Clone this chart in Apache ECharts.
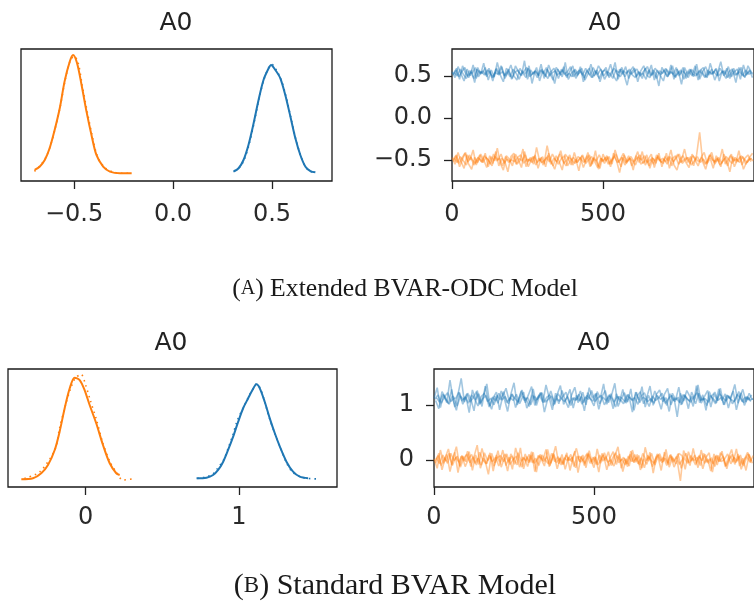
<!DOCTYPE html>
<html>
<head>
<meta charset="utf-8">
<title>A0 posterior and trace</title>
<style>
  html, body { margin: 0; padding: 0; background: #fff; }
  #chart { width: 754px; height: 603px; }
</style>
</head>
<body>
<div id="chart"></div>
<script src="https://cdn.jsdelivr.net/npm/echarts@6/dist/echarts.min.js"></script>
<script>
// ---- data ----
// (A) extended BVAR-ODC, density of A0 (two components, two chains each)
var densA_orange = [[-0.699,0.042],[-0.674,0.069],[-0.648,0.125],[-0.623,0.225],[-0.598,0.375],[-0.572,0.558],[-0.548,0.778],[-0.522,0.944],[-0.505,1.0],[-0.485,0.933],[-0.462,0.75],[-0.437,0.528],[-0.412,0.333],[-0.387,0.167],[-0.353,0.069],[-0.319,0.028],[-0.268,0.014],[-0.209,0.014]];
var densA_orange2 = [[-0.70,0.03],[-0.67,0.08],[-0.645,0.14],[-0.62,0.24],[-0.595,0.39],[-0.57,0.57],[-0.545,0.79],[-0.52,0.95],[-0.50,0.99],[-0.48,0.94],[-0.46,0.76],[-0.435,0.54],[-0.41,0.34],[-0.385,0.17],[-0.35,0.07],[-0.31,0.03],[-0.26,0.015],[-0.21,0.015]];
var densA_blue = [[0.305,0.028],[0.331,0.056],[0.356,0.125],[0.381,0.25],[0.407,0.431],[0.432,0.625],[0.457,0.792],[0.483,0.889],[0.495,0.917],[0.517,0.875],[0.542,0.806],[0.567,0.667],[0.593,0.486],[0.618,0.306],[0.643,0.167],[0.669,0.069],[0.694,0.033],[0.719,0.022]];
var densA_blue2 = [[0.31,0.035],[0.335,0.06],[0.36,0.13],[0.385,0.26],[0.41,0.44],[0.435,0.64],[0.46,0.80],[0.485,0.90],[0.50,0.92],[0.52,0.88],[0.545,0.80],[0.57,0.66],[0.595,0.48],[0.62,0.30],[0.645,0.16],[0.67,0.065],[0.695,0.03],[0.72,0.02]];

// (B) standard BVAR
var densB_orange = [[-0.420,0.022],[-0.344,0.031],[-0.290,0.078],[-0.246,0.155],[-0.202,0.295],[-0.170,0.466],[-0.137,0.684],[-0.104,0.870],[-0.072,0.969],[-0.039,0.947],[-0.007,0.854],[0.026,0.714],[0.069,0.544],[0.113,0.342],[0.157,0.171],[0.200,0.078],[0.222,0.062]];
var densB_orange2 = [[-0.40,0.03],[-0.30,0.09],[-0.20,0.30],[-0.17,0.50],[-0.13,0.72],[-0.10,0.86],[-0.07,0.96],[-0.03,1.0],[0.0,0.90],[0.03,0.76],[0.07,0.58],[0.11,0.37],[0.16,0.18],[0.20,0.09],[0.243,0.015],[0.302,0.025]];
var densB_blue = [[0.724,0.031],[0.789,0.037],[0.832,0.062],[0.865,0.109],[0.898,0.186],[0.930,0.295],[0.963,0.419],[0.996,0.559],[1.028,0.684],[1.061,0.777],[1.089,0.854],[1.115,0.907],[1.137,0.870],[1.169,0.745],[1.202,0.590],[1.235,0.451],[1.268,0.326],[1.311,0.186],[1.354,0.093],[1.398,0.046],[1.452,0.031]];
var densB_blue2 = [[0.73,0.03],[0.79,0.045],[0.83,0.07],[0.86,0.12],[0.90,0.20],[0.93,0.31],[0.96,0.43],[0.99,0.57],[1.03,0.69],[1.06,0.78],[1.09,0.86],[1.115,0.91],[1.14,0.87],[1.17,0.74],[1.20,0.59],[1.235,0.45],[1.27,0.32],[1.31,0.18],[1.35,0.09],[1.40,0.045],[1.45,0.03],[1.517,0.025]];

// trace values, one value per 10 draws; the "b" lists are the draws in between
var thinStep = 10;
var traceA_blue1 = [0.55,0.48,0.61,0.52,0.44,0.58,0.50,0.63,0.47,0.56,0.53,0.60,0.45,0.57,0.49,0.66,0.51,0.43,0.59,0.54,0.47,0.62,0.55,0.50,0.68,0.46,0.57,0.52,0.60,0.44,0.56,0.49,0.63,0.53,0.41,0.58,0.51,0.61,0.48,0.55,0.62,0.47,0.54,0.59,0.45,0.52,0.64,0.50,0.57,0.43,0.55,0.60,0.48,0.53,0.66,0.46,0.58,0.51,0.39,0.56,0.61,0.49,0.54,0.47,0.59,0.52,0.63,0.45,0.57,0.50,0.44,0.58,0.53,0.62,0.48,0.55,0.40,0.60,0.52,0.57,0.49,0.64,0.46,0.55,0.61,0.51,0.58,0.45,0.54,0.67,0.50,0.59,0.47,0.56,0.42,0.60,0.53,0.48,0.62,0.55];
var traceA_blue2 = [0.51,0.59,0.46,0.62,0.53,0.48,0.57,0.42,0.60,0.52,0.65,0.49,0.56,0.44,0.58,0.51,0.61,0.47,0.54,0.63,0.50,0.45,0.59,0.53,0.48,0.62,0.41,0.56,0.51,0.64,0.47,0.58,0.52,0.45,0.60,0.55,0.49,0.66,0.46,0.53,0.57,0.50,0.61,0.43,0.55,0.59,0.48,0.52,0.62,0.56,0.46,0.53,0.64,0.50,0.44,0.58,0.52,0.61,0.47,0.55,0.59,0.43,0.56,0.62,0.51,0.48,0.57,0.53,0.38,0.60,0.54,0.49,0.63,0.46,0.58,0.52,0.60,0.47,0.55,0.50,0.62,0.45,0.57,0.51,0.48,0.65,0.53,0.59,0.44,0.56,0.52,0.61,0.49,0.55,0.58,0.46,0.63,0.51,0.57,0.48];
var traceA_blue1b = [0.52,0.57,0.49,0.55,0.60,0.50,0.54,0.47,0.58,0.53,0.56,0.51,0.59,0.48,0.54,0.52,0.62,0.50,0.55,0.49,0.58,0.53,0.46,0.56,0.52,0.59,0.51,0.55,0.48,0.57,0.53,0.60,0.50,0.54,0.56,0.47,0.58,0.52,0.55,0.61,0.49,0.54,0.57,0.51,0.59,0.53,0.48,0.56,0.52,0.58,0.50,0.55,0.53,0.47,0.57,0.54,0.60,0.49,0.56,0.52,0.55,0.58,0.50,0.53,0.46,0.57,0.51,0.59,0.54,0.52,0.57,0.49,0.55,0.52,0.60,0.50,0.56,0.53,0.48,0.58,0.54,0.51,0.57,0.60,0.49,0.55,0.52,0.58,0.50,0.54,0.56,0.48,0.53,0.59,0.51,0.55,0.50,0.57,0.52,0.54];
var traceA_blue2b = [0.54,0.50,0.58,0.52,0.47,0.56,0.53,0.60,0.49,0.55,0.51,0.57,0.53,0.48,0.59,0.52,0.55,0.50,0.58,0.46,0.54,0.57,0.51,0.55,0.60,0.49,0.53,0.56,0.50,0.58,0.52,0.47,0.55,0.59,0.51,0.54,0.57,0.50,0.53,0.49,0.58,0.52,0.55,0.48,0.56,0.51,0.60,0.53,0.47,0.55,0.57,0.50,0.54,0.59,0.52,0.49,0.56,0.53,0.58,0.51,0.48,0.55,0.52,0.57,0.61,0.50,0.54,0.47,0.56,0.53,0.59,0.51,0.55,0.49,0.53,0.57,0.46,0.54,0.58,0.52,0.50,0.56,0.53,0.48,0.57,0.52,0.55,0.50,0.59,0.53,0.47,0.55,0.58,0.51,0.54,0.60,0.49,0.53,0.56,0.52];
var traceA_orange1 = [-0.47,-0.55,-0.41,-0.52,-0.60,-0.44,-0.50,-0.38,-0.56,-0.48,-0.53,-0.42,-0.58,-0.46,-0.51,-0.36,-0.54,-0.62,-0.45,-0.49,-0.57,-0.43,-0.50,-0.59,-0.40,-0.52,-0.47,-0.55,-0.35,-0.51,-0.46,-0.58,-0.42,-0.53,-0.61,-0.48,-0.39,-0.54,-0.50,-0.44,-0.56,-0.49,-0.63,-0.45,-0.52,-0.41,-0.57,-0.47,-0.53,-0.60,-0.43,-0.51,-0.46,-0.55,-0.38,-0.50,-0.58,-0.44,-0.52,-0.48,-0.62,-0.45,-0.53,-0.40,-0.56,-0.49,-0.43,-0.59,-0.47,-0.51,-0.54,-0.42,-0.60,-0.48,-0.45,-0.55,-0.50,-0.37,-0.53,-0.46,-0.57,-0.44,-0.17,-0.52,-0.61,-0.47,-0.41,-0.55,-0.49,-0.58,-0.43,-0.51,-0.64,-0.46,-0.53,-0.39,-0.56,-0.48,-0.44,-0.52];
var traceA_orange2 = [-0.52,-0.44,-0.58,-0.49,-0.41,-0.55,-0.61,-0.47,-0.53,-0.43,-0.50,-0.59,-0.45,-0.54,-0.40,-0.57,-0.48,-0.52,-0.64,-0.46,-0.42,-0.55,-0.51,-0.37,-0.58,-0.49,-0.53,-0.44,-0.60,-0.47,-0.54,-0.33,-0.50,-0.57,-0.45,-0.52,-0.62,-0.43,-0.48,-0.56,-0.41,-0.53,-0.47,-0.59,-0.50,-0.44,-0.55,-0.39,-0.61,-0.48,-0.54,-0.46,-0.58,-0.42,-0.51,-0.65,-0.47,-0.53,-0.45,-0.57,-0.49,-0.40,-0.55,-0.52,-0.44,-0.60,-0.48,-0.54,-0.42,-0.58,-0.46,-0.51,-0.38,-0.56,-0.62,-0.49,-0.45,-0.53,-0.59,-0.43,-0.50,-0.57,-0.47,-0.41,-0.54,-0.48,-0.60,-0.45,-0.52,-0.37,-0.55,-0.49,-0.43,-0.58,-0.50,-0.46,-0.61,-0.53,-0.47,-0.42];
var traceA_orange1b = [-0.50,-0.45,-0.54,-0.48,-0.42,-0.52,-0.47,-0.56,-0.49,-0.44,-0.53,-0.47,-0.51,-0.57,-0.46,-0.50,-0.43,-0.54,-0.49,-0.52,-0.45,-0.55,-0.48,-0.51,-0.44,-0.58,-0.50,-0.46,-0.53,-0.49,-0.56,-0.47,-0.52,-0.43,-0.50,-0.55,-0.48,-0.45,-0.57,-0.51,-0.47,-0.53,-0.49,-0.44,-0.54,-0.50,-0.46,-0.52,-0.59,-0.48,-0.51,-0.45,-0.55,-0.49,-0.43,-0.53,-0.47,-0.56,-0.50,-0.46,-0.52,-0.48,-0.44,-0.54,-0.50,-0.57,-0.47,-0.51,-0.45,-0.53,-0.49,-0.55,-0.46,-0.52,-0.48,-0.43,-0.54,-0.50,-0.47,-0.56,-0.51,-0.46,-0.53,-0.49,-0.55,-0.44,-0.50,-0.52,-0.47,-0.54,-0.48,-0.57,-0.45,-0.51,-0.49,-0.53,-0.46,-0.55,-0.50,-0.48];
var traceA_orange2b = [-0.48,-0.53,-0.46,-0.51,-0.56,-0.44,-0.50,-0.54,-0.47,-0.52,-0.45,-0.49,-0.55,-0.43,-0.51,-0.48,-0.57,-0.46,-0.53,-0.50,-0.52,-0.47,-0.44,-0.54,-0.49,-0.51,-0.46,-0.56,-0.48,-0.53,-0.50,-0.45,-0.55,-0.48,-0.52,-0.43,-0.51,-0.57,-0.47,-0.50,-0.54,-0.46,-0.49,-0.53,-0.45,-0.58,-0.48,-0.51,-0.44,-0.52,-0.47,-0.55,-0.50,-0.46,-0.53,-0.49,-0.42,-0.54,-0.48,-0.51,-0.56,-0.47,-0.50,-0.45,-0.53,-0.49,-0.55,-0.44,-0.51,-0.48,-0.52,-0.46,-0.57,-0.49,-0.43,-0.53,-0.50,-0.47,-0.54,-0.45,-0.49,-0.52,-0.47,-0.55,-0.50,-0.44,-0.53,-0.48,-0.56,-0.51,-0.46,-0.50,-0.54,-0.47,-0.52,-0.45,-0.49,-0.53,-0.48,-0.51];
var traceB_blue1 = [1.12,1.31,0.95,1.18,1.04,1.45,1.08,0.90,1.22,1.01,1.15,0.86,1.27,1.09,1.20,0.97,1.34,1.06,0.92,1.16,1.03,1.25,1.11,0.88,1.19,1.40,1.00,1.14,1.23,0.94,1.07,1.29,0.99,1.17,1.05,1.36,1.13,0.91,1.21,1.02,1.26,1.08,0.95,1.18,1.32,1.04,1.15,0.89,1.22,1.10,0.98,1.24,1.12,1.38,1.01,1.16,0.93,1.20,1.06,1.28,1.03,1.14,0.87,1.23,1.09,1.33,0.96,1.17,1.05,1.25,1.11,0.92,1.19,1.30,1.00,1.13,0.78,1.21,1.07,1.26,1.15,0.97,1.35,1.04,1.18,0.90,1.24,1.10,1.02,1.29,1.08,1.20,0.94,1.16,1.37,1.03,1.22,0.99,1.14,1.06];
var traceB_blue2 = [1.08,0.93,1.24,1.14,1.02,1.28,0.96,1.19,1.48,1.05,1.21,1.11,0.89,1.26,1.03,1.17,1.38,0.98,1.13,1.23,0.91,1.16,1.30,1.07,1.20,0.95,1.12,1.27,1.04,1.18,1.33,0.99,1.15,1.22,0.87,1.10,1.25,1.06,1.19,1.35,1.01,1.13,1.28,0.94,1.17,1.07,1.23,1.00,1.31,1.12,1.20,0.92,1.15,1.26,1.04,1.18,1.39,0.97,1.11,1.22,1.05,1.29,0.90,1.16,1.24,1.02,1.14,1.34,0.99,1.19,1.27,1.06,1.13,0.88,1.21,1.09,1.32,1.01,1.17,0.93,1.23,1.10,1.36,1.03,1.15,1.26,0.96,1.20,1.08,1.30,1.00,1.18,1.11,1.25,0.91,1.14,1.28,1.05,1.21,1.09];
var traceB_blue1b = [1.10,1.18,1.03,1.14,1.22,1.06,1.12,0.98,1.16,1.09,1.20,1.05,1.13,1.24,1.01,1.11,1.17,0.96,1.14,1.07,1.21,1.09,1.15,1.02,1.19,1.12,1.05,1.25,1.08,1.13,1.00,1.16,1.10,1.22,1.04,1.14,1.18,0.99,1.11,1.07,1.15,1.23,1.03,1.12,1.08,1.19,1.01,1.14,1.10,1.26,1.06,1.13,1.17,1.00,1.11,1.20,1.05,1.15,1.09,1.02,1.18,1.12,1.07,1.23,1.04,1.14,1.10,0.97,1.16,1.08,1.13,1.21,1.03,1.11,1.17,1.06,1.14,1.00,1.19,1.10,1.05,1.15,1.22,1.08,1.12,0.99,1.17,1.11,1.04,1.20,1.13,1.07,1.16,1.02,1.10,1.24,1.06,1.14,1.09,1.18];
var traceB_blue2b = [1.13,1.05,1.19,1.09,1.01,1.16,1.11,1.23,1.07,1.14,1.03,1.18,1.10,0.98,1.15,1.21,1.06,1.12,1.00,1.17,1.09,1.24,1.04,1.13,1.08,1.19,1.02,1.15,1.11,0.97,1.18,1.07,1.14,1.22,1.05,1.10,1.16,1.01,1.20,1.12,1.06,1.15,0.99,1.13,1.09,1.25,1.04,1.17,1.11,1.07,1.21,1.02,1.14,1.08,1.18,1.10,0.96,1.15,1.12,1.05,1.19,1.09,1.13,1.01,1.16,1.22,1.06,1.11,1.03,1.17,1.10,1.14,0.99,1.20,1.08,1.12,1.04,1.18,1.13,1.07,1.15,1.02,1.21,1.09,1.11,1.05,1.16,1.23,1.08,1.13,1.00,1.17,1.10,1.06,1.19,1.12,1.04,1.15,1.09,1.11];
var traceB_orange1 = [0.02,-0.15,0.18,-0.06,0.10,-0.21,0.05,0.24,-0.11,0.07,-0.03,0.15,-0.19,0.09,-0.08,0.21,-0.02,-0.26,0.12,-0.05,0.17,-0.13,0.04,-0.20,0.11,0.01,-0.09,0.22,-0.16,0.06,-0.04,0.14,-0.22,0.08,-0.01,0.19,-0.12,0.03,0.25,-0.07,0.10,-0.17,0.05,-0.03,0.16,-0.23,0.07,-0.10,0.13,0.00,-0.14,0.20,-0.06,0.09,-0.18,0.04,0.15,-0.08,0.11,-0.21,0.02,-0.11,0.18,-0.04,0.08,-0.15,0.23,-0.02,0.12,-0.09,0.06,-0.19,0.14,-0.05,0.10,-0.13,-0.01,-0.38,0.17,0.03,-0.10,0.21,-0.06,0.09,-0.16,0.05,0.13,-0.22,0.07,-0.03,0.16,-0.12,0.04,0.19,-0.08,0.11,-0.17,0.01,0.14,-0.05];
var traceB_orange2 = [-0.06,0.12,-0.18,0.04,0.20,-0.09,0.14,-0.23,0.07,-0.02,0.16,-0.12,0.06,0.27,-0.15,0.03,-0.07,0.13,-0.20,0.09,-0.04,0.18,-0.10,0.05,-0.17,0.22,0.01,-0.13,0.11,-0.05,0.15,-0.21,0.08,0.02,-0.11,0.19,-0.06,0.10,-0.16,0.04,-0.08,0.13,-0.19,0.06,0.21,-0.03,0.09,-0.14,0.17,-0.07,0.05,-0.22,0.12,-0.01,0.15,-0.10,0.07,0.24,-0.15,0.03,-0.12,0.16,-0.05,0.10,-0.18,0.02,-0.08,0.14,-0.24,0.06,0.11,-0.03,0.19,-0.13,0.04,-0.07,0.12,0.08,-0.17,0.15,-0.02,0.09,-0.14,0.18,-0.06,0.02,-0.20,0.11,-0.09,0.13,0.05,-0.16,0.08,-0.04,0.20,-0.11,0.03,-0.19,0.10,-0.06];
var traceB_orange1b = [-0.02,0.08,-0.10,0.04,-0.06,0.12,-0.01,0.07,-0.13,0.03,0.10,-0.05,0.06,-0.09,0.14,0.00,-0.07,0.09,-0.03,0.05,-0.11,0.02,0.11,-0.04,0.07,-0.08,0.13,-0.02,0.04,-0.12,0.08,-0.06,0.01,0.10,-0.03,0.06,-0.10,0.12,-0.05,0.03,-0.08,0.09,-0.01,0.05,-0.14,0.07,0.02,-0.06,0.11,-0.03,0.06,-0.09,0.03,0.13,-0.04,0.00,-0.11,0.08,-0.02,0.05,-0.07,0.10,-0.03,0.04,-0.09,0.12,-0.01,0.06,-0.12,0.02,0.09,-0.05,0.03,-0.08,0.07,-0.02,0.11,-0.15,0.04,-0.06,0.08,-0.01,0.05,-0.10,0.12,-0.04,0.02,-0.07,0.09,-0.03,0.06,-0.11,0.01,0.10,-0.05,0.07,-0.08,0.03,0.11,-0.02];
var traceB_orange2b = [0.04,-0.07,0.09,-0.02,0.12,-0.10,0.05,-0.04,0.08,-0.12,0.02,0.10,-0.06,0.03,-0.09,0.13,-0.01,0.06,-0.11,0.04,0.08,-0.03,0.11,-0.08,0.01,0.07,-0.13,0.05,-0.02,0.10,-0.05,0.03,-0.10,0.09,0.00,-0.07,0.12,-0.03,0.06,-0.09,0.04,-0.01,0.10,-0.12,0.07,-0.04,0.02,0.11,-0.06,0.05,-0.08,0.09,-0.02,0.06,-0.11,0.03,0.13,-0.05,0.01,-0.09,0.07,-0.03,0.10,-0.07,0.04,-0.14,0.08,0.00,-0.06,0.11,-0.02,0.05,-0.10,0.09,-0.04,0.06,-0.08,0.02,0.12,-0.05,0.03,-0.09,0.07,-0.01,0.10,-0.06,0.04,-0.12,0.08,-0.03,0.01,0.11,-0.07,0.05,-0.02,0.09,-0.11,0.06,-0.04,0.08];

// tick labels
var densTicksA = [-0.5, 0, 0.5];
var traceYTicksA = [-0.5, 0, 0.5];
var densTicksB = [0, 1];
var traceYTicksB = [0, 1];
var drawTicks = [0, 500];

var panelTitles = ['A0', 'A0', 'A0', 'A0'];
var captionA = '({scA|A}) Extended BVAR-ODC Model';
var captionB = '({scB|B}) Standard BVAR Model';

var C0 = '#1f77b4', C1 = '#ff7f0e';
var tickFont = 'DejaVu Sans';

function fmt(digits) {
  return function (v) {
    return Number(v).toFixed(digits).replace('-', '\u2212');
  };
}

function toTrace(vals, offset) {
  return vals.map(function (v, i) { return [i * thinStep + offset, v]; });
}

function xAxisCfg(idx, min, max, ticks, digits, margin) {
  return {
    type: 'value', gridIndex: idx, min: min, max: max,
    axisLine: { show: false, onZero: false },
    splitLine: { show: false },
    axisTick: { show: true, length: 8, customValues: ticks, lineStyle: { color: '#222', width: 1.3 } },
    axisLabel: { customValues: ticks, formatter: fmt(digits), margin: margin,
      fontFamily: tickFont, fontSize: 24, color: '#2a2a2a' }
  };
}

function yAxisCfg(idx, min, max, ticks, digits) {
  var ax = {
    type: 'value', gridIndex: idx, min: min, max: max,
    axisLine: { show: false, onZero: false },
    splitLine: { show: false }
  };
  if (!ticks) {
    ax.axisTick = { show: false };
    ax.axisLabel = { show: false };
  } else {
    ax.axisTick = { show: true, length: 8, customValues: ticks, lineStyle: { color: '#222', width: 1.3 } };
    ax.axisLabel = { customValues: ticks, formatter: fmt(digits), margin: 20,
      fontFamily: tickFont, fontSize: 24, color: '#2a2a2a' };
  }
  return ax;
}

function densLine(idx, data, color, dotted) {
  return {
    type: 'line', xAxisIndex: idx, yAxisIndex: idx, data: data,
    showSymbol: false, smooth: 0.3, z: dotted ? 2 : 3,
    lineStyle: { color: color, width: dotted ? 1.6 : 2, type: dotted ? [1.5, 4] : 'solid' }
  };
}

function traceLine(idx, vals, offset, color) {
  return {
    type: 'line', xAxisIndex: idx, yAxisIndex: idx, data: toTrace(vals, offset),
    showSymbol: false, animation: false,
    lineStyle: { color: color, width: 1.6, opacity: 0.42 }
  };
}

var gridBox = { show: true, borderColor: '#1a1a1a', borderWidth: 1.3, backgroundColor: 'transparent' };
function grid(l, t, w, h) {
  return Object.assign({ left: l, top: t, width: w, height: h }, gridBox);
}

var titleStyle = { fontFamily: tickFont, fontSize: 25, fontWeight: 'normal', color: '#222' };
function capStyle(size, scSize) {
  return {
    fontFamily: 'Liberation Serif', fontSize: size, fontWeight: 'normal', color: '#1a1a1a',
    rich: {
      scA: { fontFamily: 'Liberation Serif', fontSize: scSize, color: '#1a1a1a' },
      scB: { fontFamily: 'Liberation Serif', fontSize: scSize, color: '#1a1a1a' }
    }
  };
}

var chart = echarts.init(document.getElementById('chart'));
chart.setOption({
  animation: false,
  backgroundColor: '#fff',
  title: [
    { text: panelTitles[0], left: 176, top: 11, textAlign: 'center', padding: 0, textStyle: titleStyle },
    { text: panelTitles[1], left: 605, top: 11, textAlign: 'center', padding: 0, textStyle: titleStyle },
    { text: panelTitles[2], left: 171, top: 331, textAlign: 'center', padding: 0, textStyle: titleStyle },
    { text: panelTitles[3], left: 594, top: 331, textAlign: 'center', padding: 0, textStyle: titleStyle },
    { text: captionA, left: 405, top: 276, textAlign: 'center', padding: 0, textStyle: capStyle(25.7, 20) },
    { text: captionB, left: 395, top: 571, textAlign: 'center', padding: 0, textStyle: capStyle(30, 23) }
  ],
  grid: [
    grid(21, 49, 311, 132),
    grid(452, 49, 308, 132),
    grid(8, 369, 329, 118),
    grid(434, 369, 327, 118)
  ],
  xAxis: [
    xAxisCfg(0, -0.768, 0.803, densTicksA, 1, 22),
    xAxisCfg(1, 0, 1000, drawTicks, 0, 22),
    xAxisCfg(2, -0.507, 1.641, densTicksB, 0, 19),
    xAxisCfg(3, 0, 1000, drawTicks, 0, 19)
  ],
  yAxis: [
    yAxisCfg(0, -0.05, 1.05, null),
    yAxisCfg(1, -0.75, 0.82, traceYTicksA, 1),
    yAxisCfg(2, -0.05, 1.05, null),
    yAxisCfg(3, -0.49, 1.65, traceYTicksB, 0)
  ],
  series: [
    densLine(0, densA_orange2, C1, true),
    densLine(0, densA_blue2, C0, true),
    densLine(0, densA_orange, C1, false),
    densLine(0, densA_blue, C0, false),
    traceLine(1, traceA_blue1, 0, C0),
    traceLine(1, traceA_blue1b, thinStep / 4, C0),
    traceLine(1, traceA_blue2, thinStep / 2, C0),
    traceLine(1, traceA_blue2b, thinStep * 3 / 4, C0),
    traceLine(1, traceA_orange1, 0, C1),
    traceLine(1, traceA_orange1b, thinStep / 4, C1),
    traceLine(1, traceA_orange2, thinStep / 2, C1),
    traceLine(1, traceA_orange2b, thinStep * 3 / 4, C1),
    densLine(2, densB_orange2, C1, true),
    densLine(2, densB_blue2, C0, true),
    densLine(2, densB_orange, C1, false),
    densLine(2, densB_blue, C0, false),
    traceLine(3, traceB_blue1, 0, C0),
    traceLine(3, traceB_blue1b, thinStep / 4, C0),
    traceLine(3, traceB_blue2, thinStep / 2, C0),
    traceLine(3, traceB_blue2b, thinStep * 3 / 4, C0),
    traceLine(3, traceB_orange1, 0, C1),
    traceLine(3, traceB_orange1b, thinStep / 4, C1),
    traceLine(3, traceB_orange2, thinStep / 2, C1),
    traceLine(3, traceB_orange2b, thinStep * 3 / 4, C1)
  ]
});
</script>
</body>
</html>
